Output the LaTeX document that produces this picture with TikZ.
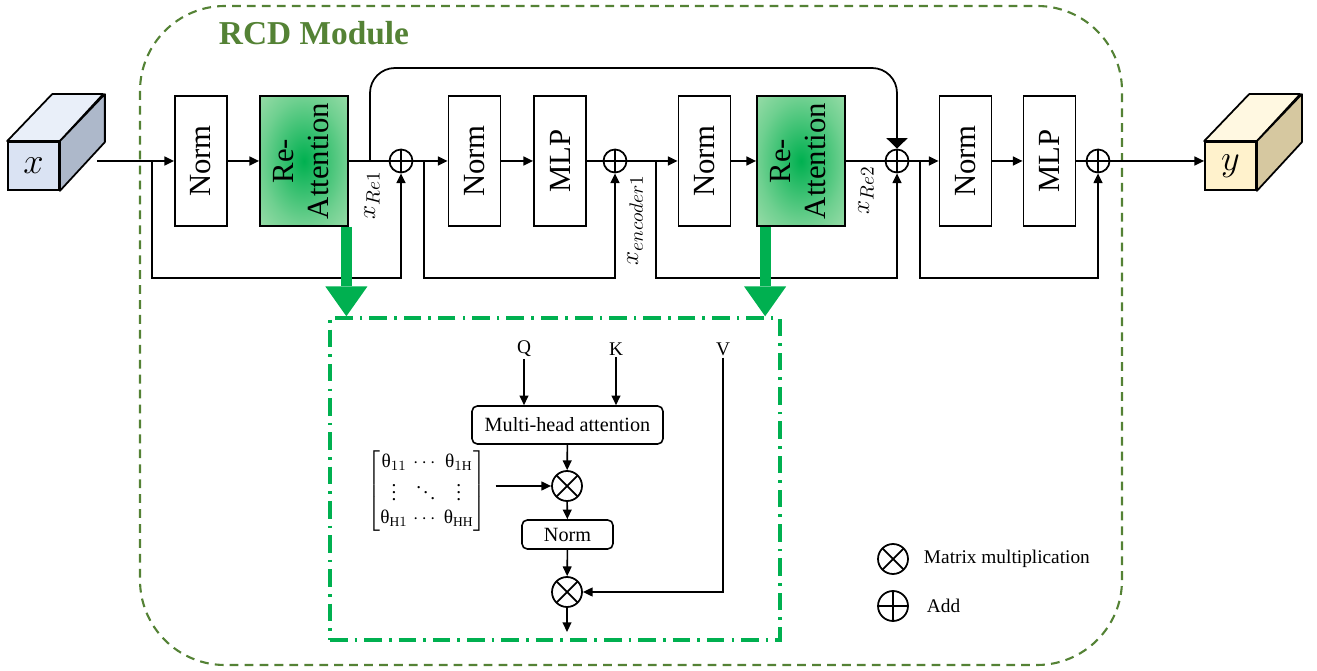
\documentclass[tikz,border=0pt]{standalone}
\usepackage{amsmath}
\usepackage{graphicx}
\usepackage{fontspec}
\setmainfont{Liberation Serif}
\usepackage{tikz}
\usetikzlibrary{positioning, arrows.meta, calc}
\definecolor{moss}{RGB}{84,130,53}
\definecolor{leaf}{RGB}{0,176,80}
\definecolor{pale}{RGB}{222,240,208}
\definecolor{iceF}{RGB}{218,227,243}
\definecolor{iceT}{RGB}{233,239,249}
\definecolor{iceS}{RGB}{173,184,202}
\definecolor{creamF}{RGB}{255,242,204}
\definecolor{creamT}{RGB}{255,248,225}
\definecolor{creamS}{RGB}{214,200,160}
\pgfdeclareradialshading{raglow}{\pgfpoint{0bp}{0bp}}{color(0bp)=(leaf); color(24bp)=(leaf!50!pale); color(56bp)=(pale); color(71bp)=(pale)}
\newcommand{\vtext}[1]{\rotatebox{90}{#1}}

\begin{document}
\begin{tikzpicture}[x=0.02cm, y=-0.02cm,
  blk/.style={draw, line width=1pt, minimum width=1.04cm, minimum height=2.6cm, inner sep=0pt, font=\fontsize{17.5}{20}\selectfont},
  ra/.style={blk, minimum width=1.76cm, shading=raglow},
  add/.style={draw, circle, line width=1pt, minimum size=0.46cm, inner sep=0pt,
    path picture={\draw[line width=1pt] (path picture bounding box.north) -- (path picture bounding box.south)
      (path picture bounding box.west) -- (path picture bounding box.east);}},
  mul/.style={draw, circle, line width=1pt, minimum size=0.6cm, inner sep=0pt,
    path picture={\draw[line width=1pt] (path picture bounding box.north west) -- (path picture bounding box.south east)
      (path picture bounding box.south west) -- (path picture bounding box.north east);}},
  face/.style={draw, line width=1pt, minimum width=1.02cm, minimum height=0.96cm, inner sep=0pt, font=\fontsize{22}{24}\selectfont},
  lbl/.style={font=\fontsize{15}{17}\selectfont, rotate=90},
  sm/.style={draw, rounded corners=3pt, line width=0.9pt, inner sep=0pt, font=\fontsize{11.5}{13}\selectfont},
  txt/.style={font=\fontsize{11}{13}\selectfont, inner sep=1pt},
  big/.style={leaf, line width=6.3pt, -{Triangle[length=17pt, width=24pt, line width=0pt]}},
  >={Triangle[length=5.5pt, width=5pt]}]
\useasboundingbox (0,0) rectangle (1317,671);
% module frame
\draw[moss, line width=1.2pt, dash pattern=on 5pt off 3.5pt, rounded corners=1.7cm] (140,6) rectangle (1122,665);
\node[text=moss, font=\bfseries\fontsize{19}{21}\selectfont] (ttl) at (314,33) {RCD Module};
% input / output cubes
\node[face, fill=iceF] (xin) at (33.5,166) {$x$};
\draw[line width=1pt, line join=round, fill=iceT] (xin.north west) -- ++(45,-47) -- ++(51,0) -- (xin.north east) -- cycle;
\draw[line width=1pt, line join=round, fill=iceS] (xin.north east) -- ++(45,-47) -- ++(0,48) -- (xin.south east) -- cycle;
\node[face, fill=creamF] (yout) at (1230.5,166) {$y$};
\draw[line width=1pt, line join=round, fill=creamT] (yout.north west) -- ++(45,-47) -- ++(51,0) -- (yout.north east) -- cycle;
\draw[line width=1pt, line join=round, fill=creamS] (yout.north east) -- ++(45,-47) -- ++(0,48) -- (yout.south east) -- cycle;
% main row
\node[blk] (n1) at (201,161) {\vtext{Norm}};
\node[ra] (r1) at (304,161) {\vtext{\begin{tabular}{@{}c@{}}Re-\\Attention\end{tabular}}};
\node[add] (p1) at (401,161) {};
\node[blk] (n2) at (474.5,161) {\vtext{Norm}};
\node[blk] (m1) at (560,161) {\vtext{MLP}};
\node[add] (p2) at (615,161) {};
\node[blk] (n3) at (704.5,161) {\vtext{Norm}};
\node[ra] (r2) at (801,161) {\vtext{\begin{tabular}{@{}c@{}}Re-\\Attention\end{tabular}}};
\node[add] (p3) at (897,161) {};
\node[blk] (n4) at (965.5,161) {\vtext{Norm}};
\node[blk] (m2) at (1049.5,161) {\vtext{MLP}};
\node[add] (p4) at (1098,161) {};
\node[lbl] (l1) at (372,195) {$x_{Re1}$};
\node[lbl] (l2) at (635,220) {$x_{encoder1}$};
\node[lbl] (l3) at (866,190) {$x_{Re2}$};
\coordinate (xo) at (97,161);
\coordinate (b1) at (152,161);
\coordinate (b2) at (424,161);
\coordinate (b3) at (656,161);
\coordinate (b4) at (920,161);
\coordinate (tap) at (370,161);
\coordinate (low) at (0,278);
\coordinate (top) at (0,68);
\begin{scope}[line width=1pt]
\draw[->] (xo) -- (n1);
\draw[->] (n1) -- (r1);
\draw (r1) -- (p1);
\draw[->] (p1) -- (n2);
\draw[->] (n2) -- (m1);
\draw (m1) -- (p2);
\draw[->] (p2) -- (n3);
\draw[->] (n3) -- (r2);
\draw (r2) -- (p3);
\draw[->] (p3) -- (n4);
\draw[->] (n4) -- (m2);
\draw (m2) -- (p4);
\draw[->] (p4) -- (p4 -| yout.west);
% residual paths
\draw[->] (b1) -- (b1 |- low) -| (p1);
\draw[->] (b2) -- (b2 |- low) -| (p2);
\draw[->] (b3) -- (b3 |- low) -| (p3);
\draw[->] (b4) -- (b4 |- low) -| (p4);
\draw[-{Triangle[length=6pt, width=12pt]}, rounded corners=0.5cm] (tap) |- (p3 |- top) -- (p3);
\end{scope}
% re-attention detail
\node[draw=leaf, line width=2pt, dash pattern=on 10pt off 4pt on 1.5pt off 4pt, minimum width=9cm, minimum height=6.44cm] (att) at (555,479) {};
\draw[big] ($(r1.south east)+(-2.5,0)$) coordinate (g1) -- (g1 |- att.north);
\draw[big] ($(r2.south west)+(9,0)$) coordinate (g2) -- (g2 |- att.north);
\node[txt] (q) at (524,349) {Q};
\node[txt] (k) at (616,349) {K};
\node[txt] (v) at (723,349) {V};
\node[sm, minimum width=3.82cm, minimum height=0.76cm] (mha) at (567.5,425) {Multi-head attention};
\node[mul] (x1) at (567,486) {};
\node[txt] (mat) at (427,491) {\setlength{\arraycolsep}{1.5pt}$\left[\begin{matrix}\text{θ}_{11} & \cdots & \text{θ}_{1\mathrm{H}}\\ \vdots & \ddots & \vdots\\ \text{θ}_{\mathrm{H}1} & \cdots & \text{θ}_{\mathrm{HH}}\end{matrix}\right]$};
\node[sm, minimum width=1.82cm, minimum height=0.58cm] (nm) at (567.5,534.5) {Norm};
\node[mul] (x2) at (567,592) {};
\coordinate (out) at (567,632);
\begin{scope}[line width=0.9pt]
\draw[->] (q) -- (q |- mha.north);
\draw[->] (k) -- (k |- mha.north);
\draw[->] (mha) -- (x1);
\draw[->] ([xshift=4pt]mat.east |- x1) -- (x1);
\draw[->] (x1) -- (nm);
\draw[->] (nm) -- (x2);
\draw[->] (v) |- (x2);
\draw[->] (x2) -- (out);
\end{scope}
% legend
\node[mul] (lx) at (893,559) {};
\node[txt, right=0.26cm of lx] (lxt) {Matrix multiplication};
\node[add, minimum size=0.6cm] (la) at (893,606) {};
\node[txt, right=0.32cm of la] (lat) {Add};
\end{tikzpicture}
\end{document}
